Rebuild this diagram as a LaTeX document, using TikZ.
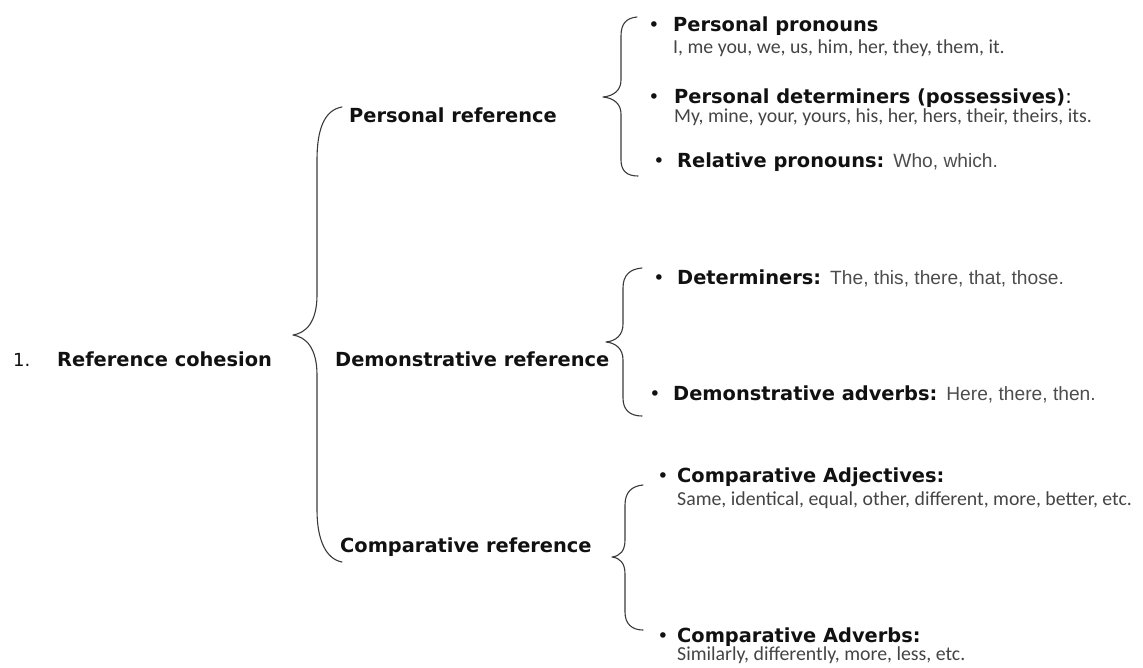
\documentclass[tikz,border=0pt]{standalone}
\usepackage{fontspec}
\newfontfamily\vd{DejaVu Sans}
\newfontfamily\cb{Carlito}
\newfontfamily\ar{Liberation Sans}
\definecolor{ink}{HTML}{111111}
\definecolor{grayA}{HTML}{444444}
\definecolor{grayB}{HTML}{4D4D4D}
\definecolor{bracec}{HTML}{3A3A3A}
\tikzset{
  head/.style={anchor=base west, inner sep=0pt, font=\vd\bfseries\fontsize{19.4}{23}\selectfont, text=ink},
  numlab/.style={anchor=base west, inner sep=0pt, font=\vd\fontsize{18}{22}\selectfont, text=ink},
  sub/.style={anchor=base west, inner sep=0pt, font=\cb\fontsize{19.8}{23}\selectfont, text=grayA},
  bul/.style={anchor=base, inner sep=0pt, font=\vd\fontsize{19}{22}\selectfont, text=ink},
  bracepath/.style={draw=bracec, line width=1.1pt, line cap=round, line join=round},
}
\newcommand{\plain}[1]{{\ar\mdseries\fontsize{19.2}{23}\selectfont\color{grayB}#1}}
\begin{document}
\begin{tikzpicture}[x=1pt,y=-1pt]
\useasboundingbox (0,0) rectangle (1143,667);
% left column
\node[numlab] (n1) at (13,366) {1.};
\node[head] (root) at (57,366) {Reference cohesion};
% middle column
\node[head] (pers) at (349,122) {Personal reference};
\node[head] (demo) at (335,366) {Demonstrative reference};
\node[head] (comp) at (340,552) {Comparative reference};
% big brace
\coordinate (B1t) at (342,107);
\coordinate (B1m) at (293,335);
\coordinate (B1b) at (342,562);
\path[bracepath] (B1t) .. controls (324,110) and (317,130) .. (317,160)
  -- (317,295) .. controls (317,322) and (306,333) .. (B1m)
  .. controls (306,337) and (317,348) .. (317,375)
  -- (317,510) .. controls (317,540) and (326,559) .. (B1b);
% personal brace
\coordinate (P1t) at (637,17);
\coordinate (P1m) at (603,97);
\coordinate (P1b) at (638,176);
\path[bracepath] (P1t) .. controls (626,18) and (621,24) .. (621,36)
  -- (621,80) .. controls (621,90) and (614,96) .. (P1m)
  .. controls (614,98) and (621,104) .. (621,114)
  -- (621,160) .. controls (621,171) and (627,176) .. (P1b);
% demonstrative brace
\coordinate (D1t) at (642,268);
\coordinate (D1m) at (606,342);
\coordinate (D1b) at (642,416);
\path[bracepath] (D1t) .. controls (630,269) and (623,275) .. (623,288)
  -- (623,324) .. controls (623,335) and (616,341) .. (D1m)
  .. controls (616,343) and (623,349) .. (623,360)
  -- (623,398) .. controls (623,410) and (630,416) .. (D1b);
% comparative brace
\coordinate (C1t) at (643,485);
\coordinate (C1m) at (612,557);
\coordinate (C1b) at (643,630);
\path[bracepath] (C1t) .. controls (632,486) and (625,492) .. (625,505)
  -- (625,540) .. controls (625,551) and (620,556) .. (C1m)
  .. controls (620,558) and (625,563) .. (625,574)
  -- (625,612) .. controls (625,624) and (632,630) .. (C1b);
% personal items
\node[bul] (bp1) at (654,31) {•};
\node[head] (pp) at (673,31) {Personal pronouns};
\node[sub] (ppx) at (673,53) {I, me you, we, us, him, her, they, them, it.};
\node[bul] (bp2) at (654,103) {•};
\node[head] (pd) at (674,103) {Personal determiners (possessives){\mdseries:}};
\node[sub] (pdx) at (674,122) {My, mine, your, yours, his, her, hers, their, theirs, its.};
\node[bul] (bp3) at (659,167) {•};
\node[head] (rp) at (677,167) {Relative pronouns: \plain{Who, which.}};
% demonstrative items
\node[bul] (bd1) at (659,284) {•};
\node[head] (dt) at (677,284) {Determiners: \plain{The, this, there, that, those.}};
\node[bul] (bd2) at (655,400) {•};
\node[head] (da) at (673,400) {Demonstrative adverbs: \plain{Here, there, then.}};
% comparative items
\node[bul] (bc1) at (663,482) {•};
\node[head] (ca) at (677,482) {Comparative Adjectives:};
\node[sub] (cax) at (677,505) {Same, identical, equal, other, different, more, better, etc.};
\node[bul] (bc2) at (663,642) {•};
\node[head] (cv) at (677,642) {Comparative Adverbs:};
\node[sub] (cvx) at (677,660) {Similarly, differently, more, less, etc.};
\end{tikzpicture}
\end{document}
